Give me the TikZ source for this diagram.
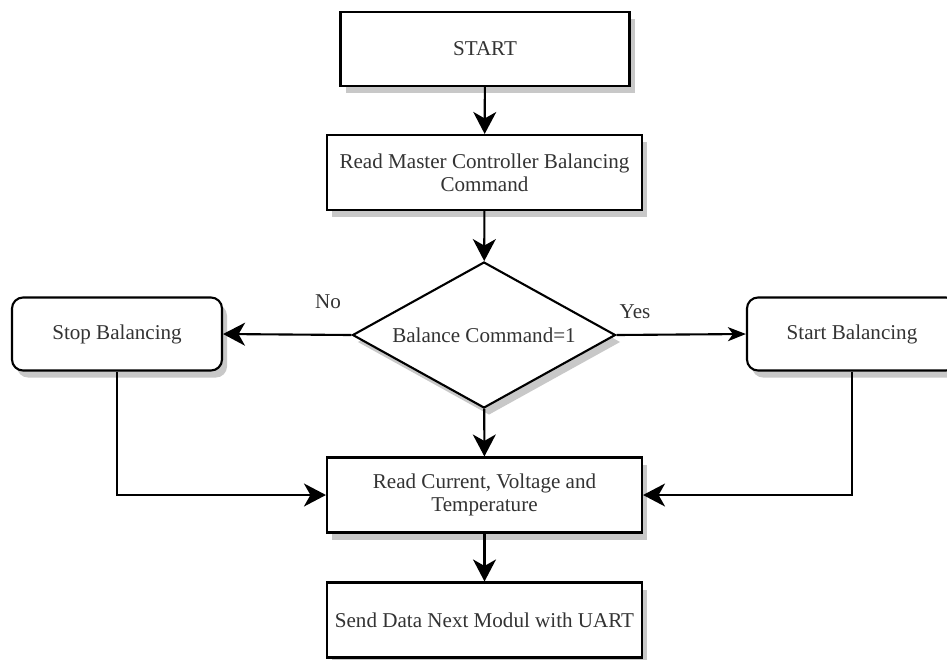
\documentclass[tikz,border=0pt]{standalone}
\usepackage{fontspec}
\setmainfont{Liberation Serif}
\usepackage{tikz}
\usetikzlibrary{shapes, arrows.meta, positioning, shadows}

\definecolor{shadowgray}{RGB}{200, 200, 200}
\definecolor{textgray}{RGB}{51, 51, 51}

\tikzset{
  flowbox/.style={draw=black, fill=white, line width=1.2pt, align=center, text=textgray,
    font=\fontsize{12}{13}\selectfont,
    drop shadow={shadow xshift=0.1cm, shadow yshift=-0.14cm, fill=shadowgray, opacity=1}},
  actbox/.style={flowbox, minimum width=6.3cm, minimum height=1.5cm},
  roundbox/.style={flowbox, rounded corners=0.22cm, minimum width=4.2cm, minimum height=1.46cm},
  decision/.style={flowbox, diamond, aspect=1.8, inner sep=0pt, minimum width=5.26cm, minimum height=2.92cm},
  flow/.style={line width=1.2pt, -{Stealth[length=0.44cm, width=0.46cm, inset=0.13cm]}},
  smallflow/.style={line width=1.2pt, -{Stealth[length=0.36cm, width=0.28cm, inset=0.1cm]}},
  branchlabel/.style={font=\fontsize{12}{13}\selectfont, text=textgray}
}

\begin{document}
\begin{tikzpicture}
  \useasboundingbox (0, 0) rectangle (18.94, -13.18);

  % Main column
  \node[actbox, minimum width=5.78cm, minimum height=1.48cm] (start) at (9.70, -0.98) {START};
  \node[actbox] (readcmd) at (9.69, -3.45) {Read Master Controller Balancing\\Command};
  \node[decision] (check) at (9.68, -6.70) {Balance Command=1};
  \node[actbox] (readdata) at (9.69, -9.90) {Read Current, Voltage and\\Temperature};
  \node[actbox] (send) at (9.69, -12.40) {Send Data Next Modul with UART};

  % Branches
  \node[roundbox] (stopbal) at (2.34, -6.68) {Stop Balancing};
  \node[roundbox] (startbal) at (17.04, -6.68) {Start Balancing};

  % Arrows
  \draw[flow] (start) -- (readcmd);
  \draw[flow] (readcmd) -- (check);
  \draw[flow] (check.west) -- (stopbal.east);
  \draw[smallflow] (check.east) -- (startbal.west);
  \draw[flow] (check) -- (readdata);
  \draw[flow] (stopbal.south) |- (readdata.west);
  \draw[flow] (startbal.south) |- (readdata.east);
  \draw[flow] (readdata) -- (send);

  \node[branchlabel] (nolabel) at (6.56, -6.04) {No};
  \node[branchlabel] (yeslabel) at (12.70, -6.24) {Yes};
\end{tikzpicture}
\end{document}
